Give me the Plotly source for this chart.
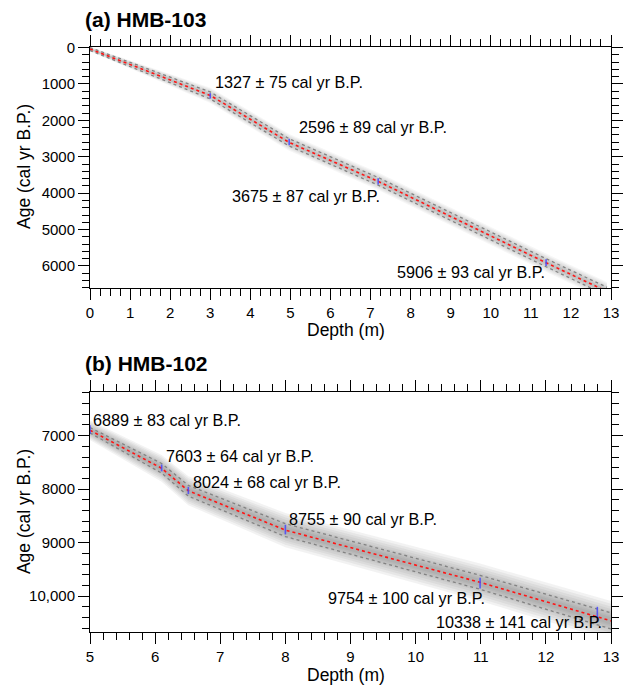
import plotly.graph_objects as go

# ---------------- Panel (a) HMB-103 ----------------
a_dates_depth = [3.0, 4.97, 7.19, 11.38]
a_dates_age = [1327, 2596, 3675, 5906]
a_dates_err = [75, 89, 87, 93]
a_labels = ["1327 ± 75 cal yr B.P.", "2596 ± 89 cal yr B.P.",
            "3675 ± 87 cal yr B.P.", "5906 ± 93 cal yr B.P."]
a_label_x = [3.08, 5.16, 3.50, 7.60]
a_label_y = [946, 2191, 4086, 6166]

a_model_depth = [0.0, 3.0, 4.97, 7.19, 11.38, 12.9]
a_model_median = [40, 1315, 2605, 3675, 5910, 6700]
a_model_inner = [40, 95, 100, 105, 110, 115]
a_model_outer = [60, 210, 230, 240, 250, 260]

a_xtick_start, a_xtick_step, a_xminor = 0, 1, 0.25
a_ytick_start, a_ytick_step, a_yminor = 0, 1000, 200

# ---------------- Panel (b) HMB-102 ----------------
b_dates_depth = [5.0, 6.1, 6.51, 8.0, 10.99, 12.79]
b_dates_age = [6889, 7603, 8024, 8755, 9754, 10338]
b_dates_err = [83, 64, 68, 90, 100, 141]
b_labels = ["6889 ± 83 cal yr B.P.", "7603 ± 64 cal yr B.P.",
            "8024 ± 68 cal yr B.P.", "8755 ± 90 cal yr B.P.",
            "9754 ± 100 cal yr B.P.", "10338 ± 141 cal yr B.P."]
b_label_x = [5.02, 6.13, 6.55, 8.02, 8.62, 10.28]
b_label_y = [6702, 7388, 7874, 8552, 10033, 10489]

b_model_depth = [5.0, 6.1, 6.51, 8.0, 10.99, 12.79, 13.0]
b_model_median = [6900, 7610, 8030, 8765, 9740, 10380, 10460]
b_model_inner = [50, 90, 100, 120, 130, 150, 150]
b_model_outer = [180, 250, 270, 320, 350, 370, 370]

b_xtick_start, b_xtick_step, b_xminor = 5, 1, 0.2
b_ytick_start, b_ytick_step, b_yminor = 7000, 1000, 200

a_xrange, a_yrange = [0, 13], [6605, -15]
b_xrange, b_yrange = [5, 13], [10668, 6185]
a_domain, b_domain = [0.588, 1.0], [0.0, 0.4103]

FONT = "Liberation Sans, Arial, Helvetica, sans-serif"

fig = go.Figure()


def add_panel(depth, med, inner, outer, d_depth, d_age, d_err, xa, ya, alpha):
    fracs = [1.0, 0.86, 0.73, 0.6, 0.48, 0.37, 0.27, 0.18]
    for f in fracs:
        up = [m - f * o for m, o in zip(med, outer)]
        lo = [m + f * o for m, o in zip(med, outer)]
        fig.add_trace(go.Scatter(
            x=depth + depth[::-1], y=up + lo[::-1], fill="toself",
            fillcolor=f"rgba(100,100,100,{alpha})", line=dict(width=0),
            mode="lines", hoverinfo="skip", showlegend=False, xaxis=xa, yaxis=ya))
    for sgn in (-1, 1):
        fig.add_trace(go.Scatter(
            x=depth, y=[m + sgn * i for m, i in zip(med, inner)], mode="lines",
            line=dict(color="rgb(130,130,130)", width=1.3, dash="dot"),
            hoverinfo="skip", showlegend=False, xaxis=xa, yaxis=ya))
    fig.add_trace(go.Scatter(
        x=depth, y=med, mode="lines",
        line=dict(color="rgb(255,20,20)", width=1.6, dash="dot"),
        hoverinfo="skip", showlegend=False, xaxis=xa, yaxis=ya))
    fig.add_trace(go.Scatter(
        x=d_depth, y=d_age, mode="markers", marker=dict(size=2, opacity=0),
        error_y=dict(type="data", array=d_err, color="rgba(70,70,255,0.85)",
                     thickness=1.6, width=0),
        hoverinfo="skip", showlegend=False, xaxis=xa, yaxis=ya))


add_panel(a_model_depth, a_model_median, a_model_inner, a_model_outer,
          a_dates_depth, a_dates_age, a_dates_err, "x", "y", 0.055)
add_panel(b_model_depth, b_model_median, b_model_inner, b_model_outer,
          b_dates_depth, b_dates_age, b_dates_err, "x2", "y2", 0.085)

annotations = []
for t, x, y in zip(a_labels, a_label_x, a_label_y):
    annotations.append(dict(text=t, x=x, y=y, xref="x", yref="y", xanchor="left",
                            yanchor="middle", showarrow=False,
                            font=dict(size=16.2, color="black", family=FONT)))
for t, x, y in zip(b_labels, b_label_x, b_label_y):
    annotations.append(dict(text=t, x=x, y=y, xref="x2", yref="y2", xanchor="left",
                            yanchor="middle", showarrow=False,
                            font=dict(size=16.2, color="black", family=FONT)))

for txt, yy in [("<b>(a) HMB-103</b>", 1.047), ("<b>(b) HMB-102</b>", 0.4598)]:
    annotations.append(dict(text=txt, x=-0.0141, y=yy, xref="paper", yref="paper",
                            xanchor="left", yanchor="middle", showarrow=False,
                            font=dict(size=21, color="black", family=FONT)))
for yy in [0.5162, -0.0735]:
    annotations.append(dict(text="Depth (m)", x=0.492, y=yy, xref="paper", yref="paper",
                            xanchor="center", yanchor="middle", showarrow=False,
                            font=dict(size=17.5, color="black", family=FONT)))
for yy in [0.7949, 0.2051]:
    annotations.append(dict(text="Age (cal yr B.P.)", x=-0.1266, y=yy, xref="paper",
                            yref="paper", xanchor="center", yanchor="middle",
                            textangle=-90, showarrow=False,
                            font=dict(size=17.5, color="black", family=FONT)))


def axis(rng, start, step, minor_step, **kw):
    return dict(range=rng, tickmode="linear", tick0=start, dtick=step,
                showline=True, linecolor="black", mirror="ticks",
                ticks="outside", ticklen=11, tickcolor="black",
                gridcolor="rgba(0,0,0,0)", zerolinecolor="rgba(0,0,0,0)",
                exponentformat="none", separatethousands=False,
                tickfont=dict(size=15, color="black", family=FONT),
                minor=dict(ticks="outside", ticklen=7, tickcolor="black",
                           dtick=minor_step),
                **kw)


fig.update_layout(
    width=625, height=686,
    margin=dict(l=90, r=2, t=47, b=54),
    paper_bgcolor="white", plot_bgcolor="white",
    showlegend=False,
    annotations=annotations,
    xaxis=axis(a_xrange, a_xtick_start, a_xtick_step, a_xminor, domain=[0, 1], anchor="y"),
    yaxis=axis(a_yrange, a_ytick_start, a_ytick_step, a_yminor, domain=a_domain, anchor="x"),
    xaxis2=axis(b_xrange, b_xtick_start, b_xtick_step, b_xminor, domain=[0, 1], anchor="y2"),
    yaxis2=axis(b_yrange, b_ytick_start, b_ytick_step, b_yminor, domain=b_domain, anchor="x2"),
)

fig.write_html("out.html")
